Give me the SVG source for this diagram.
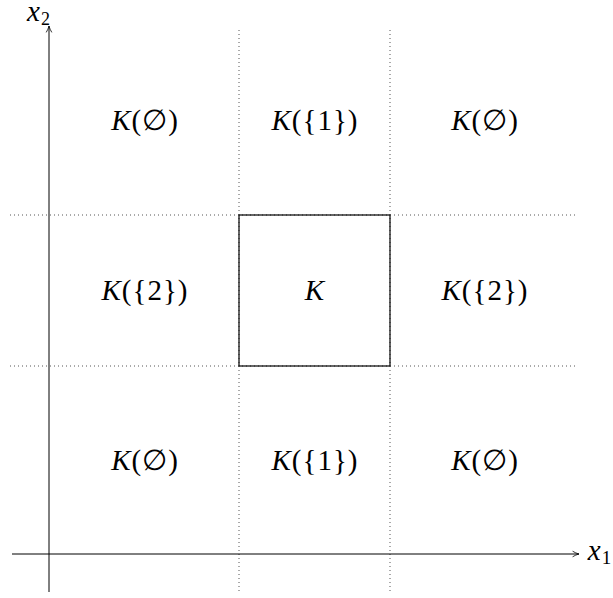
<svg xmlns="http://www.w3.org/2000/svg" width="613" height="598" viewBox="0 0 613 598">
<defs>
<marker id="arr" viewBox="0 0 10 10" refX="9" refY="5" markerWidth="8" markerHeight="8" orient="auto" markerUnits="userSpaceOnUse">
<path d="M1,1.5 Q5,4 9,5 Q5,6 1,8.5" fill="none" stroke="#000" stroke-width="1"/>
</marker>
</defs>
<style>
.dot{stroke:#555;stroke-width:1;stroke-dasharray:1 3;fill:none}
.ax{stroke:#000;stroke-width:1;fill:none}
.t{font-family:'Liberation Serif','DejaVu Serif','Times New Roman',serif;font-size:29px;text-anchor:middle;fill:#000;letter-spacing:1px}
.i{font-style:italic}
</style>
<g id="grid">
<line class="dot" x1="239" y1="30" x2="239" y2="592"/>
<line class="dot" x1="390" y1="30" x2="390" y2="592"/>
<line class="dot" x1="10" y1="215" x2="576" y2="215"/>
<line class="dot" x1="10" y1="366" x2="576" y2="366"/>
</g>
<g id="axes">
<line class="ax" x1="49" y1="592" x2="49" y2="26" marker-end="url(#arr)"/>
<line class="ax" x1="12" y1="554" x2="579" y2="554" marker-end="url(#arr)"/>
<text x="39" y="21" class="t i" font-size="25">x<tspan font-size="18" dy="4" font-style="normal">2</tspan></text>
<text x="600" y="560" class="t i" font-size="27">x<tspan font-size="19" dy="4" font-style="normal">1</tspan></text>
</g>
<g id="K">
<rect x="239" y="215" width="151" height="151" fill="none" stroke="#000" stroke-width="1.2"/>
<text x="315" y="300" class="t i">K</text>
</g>
<g id="labels">
<text x="145" y="130" class="t"><tspan class="i">K</tspan>(∅)</text>
<text x="315" y="130" class="t"><tspan class="i">K</tspan>({1})</text>
<text x="485" y="130" class="t"><tspan class="i">K</tspan>(∅)</text>
<text x="145" y="300" class="t"><tspan class="i">K</tspan>({2})</text>
<text x="485" y="300" class="t"><tspan class="i">K</tspan>({2})</text>
<text x="145" y="470" class="t"><tspan class="i">K</tspan>(∅)</text>
<text x="315" y="470" class="t"><tspan class="i">K</tspan>({1})</text>
<text x="485" y="470" class="t"><tspan class="i">K</tspan>(∅)</text>
</g>
</svg>
